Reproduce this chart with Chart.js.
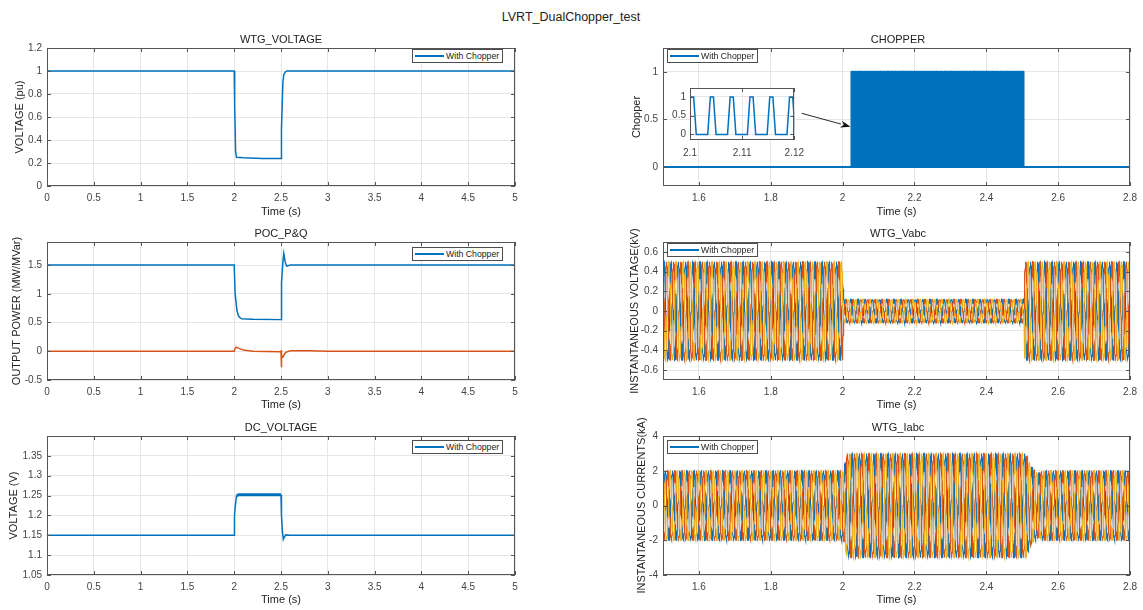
<!DOCTYPE html>
<html>
<head>
<meta charset="utf-8">
<script src="https://cdn.jsdelivr.net/npm/chart.js@4.4.1/dist/chart.umd.min.js"></script>
<style>
body { margin: 0; background: #fff; font-family: "Liberation Sans", Arial, sans-serif; }
#fig { position: relative; width: 1143px; height: 610px; overflow: hidden; background: #fff; }
.pane { position: absolute; }
.pane canvas { display: block; }
.ttl { position: absolute; width: 300px; text-align: center; font-size: 11px; line-height: 14px; color: #222; z-index: 5; }
.main { font-size: 12.5px; }
.legend { position: absolute; width: 89px; height: 12px; border: 1px solid #4d4d4d; background: #fff;
  font-size: 8.7px; line-height: 12px; color: #222; white-space: nowrap; overflow: hidden; z-index: 5; }
.legend i { display: inline-block; width: 29px; height: 0; border-top: 2px solid #0072BD; vertical-align: middle;
  margin: 0 2px 0 2px; position: relative; top: -1px; }
</style>
</head>
<body>
<div id="fig">
  <div class="ttl main" style="left:421px;top:10px">LVRT_DualChopper_test</div>
  <div class="ttl" style="left:131px;top:32px">WTG_VOLTAGE</div>
  <div class="ttl" style="left:131px;top:226px">POC_P&amp;Q</div>
  <div class="ttl" style="left:131px;top:420px">DC_VOLTAGE</div>
  <div class="ttl" style="left:748px;top:32px">CHOPPER</div>
  <div class="ttl" style="left:748px;top:226px">WTG_Vabc</div>
  <div class="ttl" style="left:748px;top:420px">WTG_Iabc</div>
  <div class="legend" style="left:412px;top:49px"><i></i>With Chopper</div>
  <div class="legend" style="left:412px;top:247px"><i></i>With Chopper</div>
  <div class="legend" style="left:412px;top:440px"><i></i>With Chopper</div>
  <div class="legend" style="left:667px;top:49px"><i></i>With Chopper</div>
  <div class="legend" style="left:667px;top:243px"><i></i>With Chopper</div>
  <div class="legend" style="left:667px;top:440px"><i></i>With Chopper</div>
</div>
<script>
// ---- data ----
// left column: 0..5 s
const wtgVoltT = [0, 2.0, 2.005, 2.015, 2.025, 2.1, 2.3, 2.5, 2.505, 2.52, 2.53, 2.545, 2.56, 5];
const wtgVoltV = [1.0, 1.0, 0.7, 0.3, 0.25, 0.245, 0.24, 0.24, 0.5, 0.9, 0.97, 0.99, 1.0, 1.0];

const pocPT = [0, 2.0, 2.01, 2.03, 2.05, 2.08, 2.2, 2.5, 2.502, 2.505, 2.51, 2.52, 2.53, 2.545, 2.56, 2.6, 5];
const pocPV = [1.5, 1.5, 1.0, 0.7, 0.6, 0.565, 0.555, 0.55, 0.9, 1.0, 1.2, 1.55, 1.7, 1.55, 1.48, 1.5, 1.5];
const pocQT = [0, 2.0, 2.01, 2.02, 2.05, 2.1, 2.2, 2.5, 2.502, 2.505, 2.51, 2.52, 2.55, 2.6, 2.8, 3.0, 5];
const pocQV = [0, 0, 0.05, 0.07, 0.05, 0.02, 0.0, -0.01, 0.02, -0.28, -0.08, -0.1, -0.02, 0.01, 0.01, 0.0, 0.0];

const dcT = [0, 2.0, 2.003, 2.01, 2.025, 2.05, 2.5, 2.505, 2.515, 2.525, 2.535, 2.55, 2.6, 5];
const dcV = [1.15, 1.15, 1.2, 1.22, 1.25, 1.252, 1.252, 1.2, 1.16, 1.14, 1.145, 1.151, 1.15, 1.15];

// right column: 1.5..2.8 s
const chopFirst = 2.0244;      // first pulse centre (s)
const chopLast = 2.507;        // chopper released
const chopPeriod = 0.0038;     // from the zoomed inset
const chopShapeDt = [-0.0008, -0.0003, 0.0003, 0.0008];
const chopShapeV = [0, 1, 1, 0];

const gridFreq = 50;
const sampleStep = 0.0004;
const vabcEnvT = [1.5, 2.0, 2.002, 2.505, 2.507, 2.8];
const vabcEnvA = [0.5, 0.5, 0.12, 0.12, 0.5, 0.5];
const vabcPhase0 = 0.6;
const iabcEnvT = [1.5, 2.003, 2.012, 2.51, 2.52, 2.53, 2.545, 2.555, 2.8];
const iabcEnvA = [2.0, 2.0, 3.0, 3.0, 2.5, 2.1, 1.85, 2.0, 2.0];
const iabcPhase0 = -0.55;

// ticks
const leftXTicks = [0, 0.5, 1, 1.5, 2, 2.5, 3, 3.5, 4, 4.5, 5];
const rightXTicks = [1.6, 1.8, 2, 2.2, 2.4, 2.6, 2.8];
const wtgVoltTicks = [0, 0.2, 0.4, 0.6, 0.8, 1, 1.2];
const pocTicks = [-0.5, 0, 0.5, 1, 1.5];
const dcTicks = [1.05, 1.1, 1.15, 1.2, 1.25, 1.3, 1.35];
const chopTicks = [0, 0.5, 1];
const vabcTicks = [-0.6, -0.4, -0.2, 0, 0.2, 0.4, 0.6];
const iabcTicks = [-4, -2, 0, 2, 4];
const insetXTicks = [2.1, 2.11, 2.12];
const insetYTicks = [0, 0.5, 1];

const arrowFrom = [1.886, 0.564];
const arrowTo = [2.022, 0.423];

// ---- styles ----
const blue = '#0072BD', orange = '#D95319', yellow = '#EDB120';
const fontFam = '"Liberation Sans", Arial, sans-serif';
const gridColor = '#e6e6e6';
const tickColor = '#444';
const textColor = '#222';

const pts = (ts, vs) => ts.map((t, i) => ({x: t, y: vs[i]}));
const fmt = v => String(+(+v).toFixed(4));

function envelopeAt(t, ts, as) {
  if (t <= ts[0]) return as[0];
  for (let i = 1; i < ts.length; i++) {
    if (t <= ts[i]) return as[i - 1] + (as[i] - as[i - 1]) * (t - ts[i - 1]) / (ts[i] - ts[i - 1]);
  }
  return as[as.length - 1];
}

function threePhase(envT, envA, phase0) {
  const out = [[], [], []];
  const t0 = envT[0], n = Math.round((envT[envT.length - 1] - t0) / sampleStep);
  for (let i = 0; i <= n; i++) {
    const t = t0 + i * sampleStep;
    const a = envelopeAt(t, envT, envA);
    for (let k = 0; k < 3; k++) {
      out[k].push({x: t, y: a * Math.sin(2 * Math.PI * gridFreq * t + phase0 - k * 2 * Math.PI / 3)});
    }
  }
  return out;
}

function chopperTrace() {
  const d = [{x: 1.5, y: 0}];
  for (let c = chopFirst; c < chopLast; c += chopPeriod) {
    chopShapeDt.forEach((dt, j) => d.push({x: c + dt, y: chopShapeV[j]}));
  }
  d.push({x: 2.8, y: 0});
  return d;
}

const line = (data, color, width, order) => ({data: data, borderColor: color, borderWidth: width || 1.5, order: order || 0, fill: false});

// white plot area, dark box and inward ticks like the scope figure
const boxPlugin = {
  id: 'axbox',
  beforeDraw(chart) {
    const a = chart.chartArea, ctx = chart.ctx;
    ctx.save(); ctx.fillStyle = '#fff';
    ctx.fillRect(a.left, a.top, a.right - a.left, a.bottom - a.top);
    ctx.restore();
  },
  afterDraw(chart) {
    const {ctx, chartArea: a, scales: {x, y}} = chart;
    ctx.save();
    ctx.strokeStyle = '#555'; ctx.lineWidth = 1;
    ctx.beginPath();
    x.ticks.forEach(t => {
      const px = Math.round(x.getPixelForValue(t.value)) + 0.5;
      ctx.moveTo(px, a.bottom); ctx.lineTo(px, a.bottom - 4);
      ctx.moveTo(px, a.top); ctx.lineTo(px, a.top + 4);
    });
    y.ticks.forEach(t => {
      const py = Math.round(y.getPixelForValue(t.value)) + 0.5;
      ctx.moveTo(a.left, py); ctx.lineTo(a.left + 4, py);
      ctx.moveTo(a.right, py); ctx.lineTo(a.right - 4, py);
    });
    ctx.stroke();
    ctx.strokeRect(Math.round(a.left) + 0.5, Math.round(a.top) + 0.5, Math.round(a.right - a.left) - 1, Math.round(a.bottom - a.top) - 1);
    ctx.restore();
  }
};
Chart.register(boxPlugin);

const arrowPlugin = {
  id: 'arrow',
  afterDatasetsDraw(chart, args, opts) {
    const {ctx, scales: {x, y}} = chart;
    const x0 = x.getPixelForValue(opts.from[0]), y0 = y.getPixelForValue(opts.from[1]);
    const x1 = x.getPixelForValue(opts.to[0]), y1 = y.getPixelForValue(opts.to[1]);
    const ang = Math.atan2(y1 - y0, x1 - x0), L = 10, W = 3.5;
    const bx = x1 - L * Math.cos(ang), by = y1 - L * Math.sin(ang);
    ctx.save();
    ctx.strokeStyle = '#111'; ctx.fillStyle = '#111'; ctx.lineWidth = 0.9;
    ctx.beginPath(); ctx.moveTo(x0, y0); ctx.lineTo(bx, by); ctx.stroke();
    ctx.beginPath(); ctx.moveTo(x1, y1);
    ctx.lineTo(bx - W * Math.sin(ang), by + W * Math.cos(ang));
    ctx.lineTo(x1 - 0.7 * L * Math.cos(ang), y1 - 0.7 * L * Math.sin(ang));
    ctx.lineTo(bx + W * Math.sin(ang), by - W * Math.cos(ang));
    ctx.closePath(); ctx.fill();
    ctx.restore();
  }
};

function makeChart(box, area, o) {
  const wrap = document.createElement('div');
  wrap.className = 'pane';
  wrap.style.cssText = `left:${box[0]}px;top:${box[1]}px;width:${box[2]}px;height:${box[3]}px;z-index:${o.z || 1}`;
  const cv = document.createElement('canvas');
  cv.width = box[2]; cv.height = box[3];
  wrap.appendChild(cv);
  document.getElementById('fig').appendChild(wrap);
  const tickFont = {family: fontFam, size: 10};
  const titleFont = {family: fontFam, size: 11};
  return new Chart(cv, {
    type: 'line',
    data: {datasets: o.datasets},
    plugins: o.plugins || [],
    options: {
      responsive: false, animation: false, parsing: false, normalized: true, events: [],
      layout: {padding: {left: 0, bottom: 0, top: area[1] - box[1], right: box[0] + box[2] - area[2]}},
      elements: {point: {radius: 0}, line: {tension: 0, borderWidth: 1.5}},
      plugins: {legend: {display: false}, tooltip: {enabled: false}, arrow: o.arrow || {}},
      scales: {
        x: {
          type: 'linear', min: o.xRange[0], max: o.xRange[1],
          afterFit: s => { s.height = box[1] + box[3] - area[3]; },
          afterBuildTicks: s => { s.ticks = o.xTicks.map(v => ({value: v})); },
          grid: {color: gridColor, drawTicks: false},
          border: {display: false},
          ticks: {padding: o.xPad || 6, font: tickFont, color: tickColor, autoSkip: false, maxRotation: 0, callback: fmt},
          title: {display: !!o.xTitle, text: o.xTitle || '', font: titleFont, color: textColor, padding: 0}
        },
        y: {
          type: 'linear', min: o.yRange[0], max: o.yRange[1],
          afterFit: s => { s.width = area[0] - box[0]; },
          afterBuildTicks: s => { s.ticks = o.yTicks.map(v => ({value: v})); },
          grid: {color: gridColor, drawTicks: false},
          border: {display: false},
          ticks: {padding: o.yPad || 5, font: tickFont, color: tickColor, autoSkip: false, callback: fmt},
          title: {display: !!o.yTitle, text: o.yTitle || '', font: titleFont, color: textColor, padding: {top: o.yTitlePad || 0, bottom: 0}}
        }
      }
    }
  });
}

// ---- left column ----
makeChart([0, 30, 530, 189], [47, 48, 515, 186], {
  xRange: [0, 5], xTicks: leftXTicks, yRange: [0, 1.2], yTicks: wtgVoltTicks,
  xTitle: 'Time (s)', yTitle: 'VOLTAGE (pu)', yTitlePad: 13,
  datasets: [line(pts(wtgVoltT, wtgVoltV), blue)]
});
makeChart([0, 222, 530, 190], [47, 242, 515, 380], {
  xRange: [0, 5], xTicks: leftXTicks, yRange: [-0.5, 1.9], yTicks: pocTicks,
  xTitle: 'Time (s)', yTitle: 'OUTPUT POWER (MW/MVar)', yTitlePad: 10,
  datasets: [line(pts(pocPT, pocPV), blue, 1.5, 1), line(pts(pocQT, pocQV), orange, 1.5, 0)]
});
const dcSet = line(pts(dcT, dcV), blue);
dcSet.segment = {borderWidth: c => (c.p0.parsed.x >= 2.025 && c.p1.parsed.x <= 2.5) ? 3 : undefined};
makeChart([0, 414, 530, 193], [47, 436, 515, 575], {
  xRange: [0, 5], xTicks: leftXTicks, yRange: [1.05, 1.4], yTicks: dcTicks,
  xTitle: 'Time (s)', yTitle: 'VOLTAGE (V)', yTitlePad: 7,
  datasets: [dcSet]
});

// ---- right column ----
const chop = chopperTrace();
const chopMain = line(chop, blue, 2);
chopMain.borderJoinStyle = 'round';
makeChart([600, 30, 543, 189], [663, 48, 1134, 186], {
  xRange: [1.5, 2.8], xTicks: rightXTicks, yRange: [-0.2, 1.25], yTicks: chopTicks,
  xTitle: 'Time (s)', yTitle: 'Chopper', yTitlePad: 30,
  plugins: [arrowPlugin], arrow: {from: arrowFrom, to: arrowTo},
  datasets: [chopMain]
});
// zoomed inset of the chopper pulses
makeChart([668, 78, 143, 84], [690, 81, 799, 140], {
  z: 3, xRange: [2.1, 2.12], xTicks: insetXTicks, yRange: [-0.15, 1.24], yTicks: insetYTicks,
  xPad: 7, yPad: 4,
  datasets: [line(chop, blue, 1.5)]
});

const vabc = threePhase(vabcEnvT, vabcEnvA, vabcPhase0);
makeChart([600, 222, 543, 190], [663, 242, 1134, 380], {
  xRange: [1.5, 2.8], xTicks: rightXTicks, yRange: [-0.7, 0.7], yTicks: vabcTicks,
  xTitle: 'Time (s)', yTitle: 'INSTANTANEOUS VOLTAGE(kV)', yTitlePad: 28,
  datasets: [line(vabc[0], blue, 1.2, 3), line(vabc[1], orange, 1.2, 2), line(vabc[2], yellow, 1.2, 1)]
});
const iabc = threePhase(iabcEnvT, iabcEnvA, iabcPhase0);
makeChart([600, 414, 543, 193], [663, 436, 1134, 575], {
  xRange: [1.5, 2.8], xTicks: rightXTicks, yRange: [-4, 4], yTicks: iabcTicks,
  xTitle: 'Time (s)', yTitle: 'INSTANTANEOUS CURRENTS(kA)', yTitlePad: 35,
  datasets: [line(iabc[0], blue, 1.2, 3), line(iabc[1], orange, 1.2, 2), line(iabc[2], yellow, 1.2, 1)]
});
</script>
</body>
</html>
